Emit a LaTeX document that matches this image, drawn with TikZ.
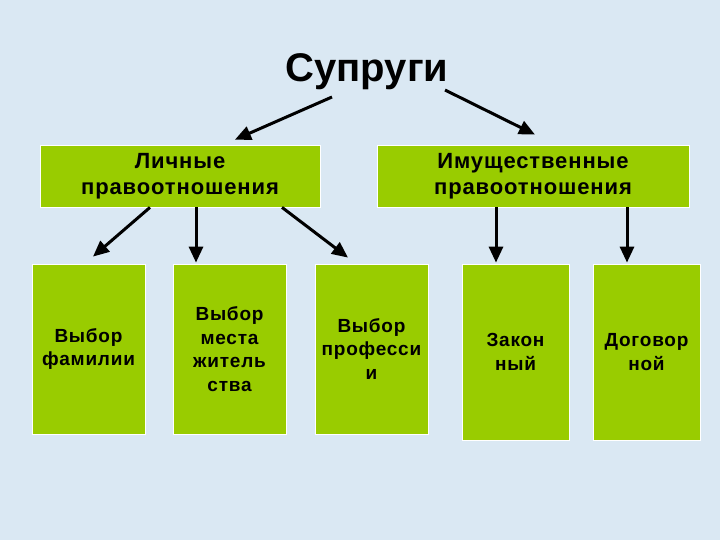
\documentclass[tikz,border=0pt]{standalone}
\usepackage{fontspec}
\setmainfont{Liberation Sans}
\newfontfamily\boxfont[LetterSpace=4]{Liberation Sans}
\usetikzlibrary{arrows.meta}
\definecolor{leaf}{HTML}{99CC00}
\definecolor{sky}{HTML}{DAE8F3}
\tikzset{
  box/.style={draw=white, line width=0.8pt, fill=leaf, align=center, inner sep=0pt},
  bigbox/.style={box, font=\boxfont\fontsize{22}{26.5}\selectfont\bfseries},
  smallbox/.style={box, minimum width=113pt, minimum height=170pt, font=\boxfont\fontsize{19}{23.5}\selectfont\bfseries},
  tallbox/.style={box, minimum width=107pt, minimum height=176pt, font=\boxfont\fontsize{19}{23.5}\selectfont\bfseries},
  arr/.style={-{Triangle[length=16pt,width=14pt]}, line width=3pt},
}
\begin{document}
\begin{tikzpicture}[x=1pt, y=-1pt]
% Фон
\fill[sky] (0,0) rectangle (720,540);
\useasboundingbox (0,0) rectangle (720,540);

% Заголовок
\node[anchor=base, font=\fontsize{40}{48}\selectfont\bfseries] (spouses) at (367,82) {Супруги};

% Два вида правоотношений
\node[bigbox, minimum width=280pt, minimum height=62pt] (pers) at (180,176) {Личные\\правоотношения};
\node[bigbox, minimum width=312pt, minimum height=62pt] (prop) at (533,176) {Имущественные\\правоотношения};

% Личные
\node[smallbox] (surname) at (88.5,349) {Выбор\\фамилии};
\node[smallbox] (residence) at (229.5,349) {Выбор\\места\\житель\\ства};
\node[smallbox] (job) at (371.5,349) {Выбор\\професси\\и};

% Имущественные
\node[tallbox] (legal) at (515.5,352) {Закон\\ный};
\node[tallbox] (contract) at (646.5,352) {Договор\\ной};

% Стрелки от заголовка
\draw[arr] ([shift={(-35,15)}]spouses.base) -- ([shift={(55,-5)}]pers.north);
\draw[arr] ([shift={(78,8)}]spouses.base) -- ([shift={(2,-10)}]prop.north);

% Стрелки от личных
\draw[arr] ([shift={(-30,0)}]pers.south) -- ([shift={(4.5,-7)}]surname.north);
\draw[arr] ([shift={(16,0)}]pers.south) -- ([shift={(-33.5,-1)}]residence.north);
\draw[arr] ([shift={(102,0)}]pers.south) -- ([shift={(-23.5,-6)}]job.north);

% Стрелки от имущественных
\draw[arr] ([shift={(-37,0)}]prop.south) -- ([shift={(-19.5,-1)}]legal.north);
\draw[arr] ([shift={(94,0)}]prop.south) -- ([shift={(-19.5,-1)}]contract.north);
\end{tikzpicture}
\end{document}
